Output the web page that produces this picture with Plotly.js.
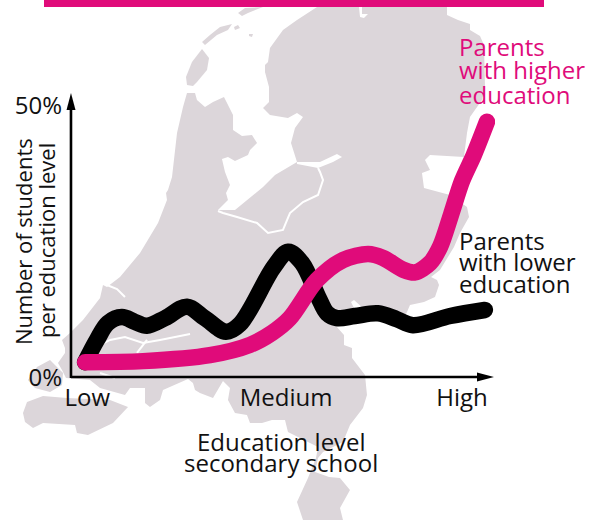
<!DOCTYPE html>
<html>
<head>
<meta charset="utf-8">
<script src="https://cdn.plot.ly/plotly-3.0.1.min.js"></script>
<style>
html,body{margin:0;padding:0;background:#fff;}
#chart{width:594px;height:520px;}
.js-line{stroke-linecap:round !important;}
</style>
</head>
<body>
<div id="chart"></div>
<script>
// Chart data: x = education level (0-100 scale), y = share of students in %
const lowerX  = [3.1,5.9,8.5,11.8,14.9,17.7,22.0,27.2,31.4,36.4,39.7,47.7,51.1,54.4,58.2,60.3,62.6,66.9,72.3,76.8,80.6,89.4,97.6];
const lowerY  = [2.9,7.0,10.1,11.2,10.3,9.6,11.0,13.1,11.0,8.5,9.9,20.4,23.2,21.1,14.9,11.9,11.0,11.4,11.9,10.8,9.7,11.4,12.5];
const higherX = [3.1,16.8,32.6,42.1,47.3,51.5,57.9,64.1,70.0,73.5,78.3,81.1,84.6,87.0,89.6,92.2,95.0,98.1];
const higherY = [2.9,3.1,4.2,6.1,8.3,11.0,18.0,21.7,22.8,22.1,19.9,19.4,21.1,24.1,30.0,36.2,41.0,47.1];
const xTickVals = [3.6,50.6,92.2];
const xTickText = ['Low','Medium','High'];
const yTickVals = [0,50];
const yTickText = ['0%','50%'];

const PINK = '#E00B7A', GREY = '#DCD6DA', INK = '#111111', FONT = '"Open Sans", sans-serif';

// Decorative background map outline (page pixels)
const mainland = [[317,7],[447,7],[447,15],[458,20],[470,24],[470,30],[480,36],[484,45],[485,87],[482,100],[470,117],[467,133],[464,157],[430,155],[425,160],[430,170],[422,173],[424,188],[450,195],[467,207],[469,217],[460,233],[454,247],[440,270],[431,277],[437,280],[439,285],[435,297],[424,302],[410,305],[407,312],[404,318],[366,320],[365,310],[354,300],[351,302],[356,312],[352,320],[336,326],[344,335],[344,345],[352,348],[352,358],[365,375],[367,395],[363,408],[350,425],[343,442],[323,452],[318,458],[315,472],[329,477],[340,478],[350,490],[340,508],[343,520],[303,520],[297,502],[308,478],[316,458],[318,447],[288,432],[285,420],[272,420],[262,423],[250,423],[247,415],[235,413],[228,400],[230,388],[223,381],[213,398],[200,393],[195,390],[193,383],[188,379],[163,390],[160,400],[150,407],[145,403],[145,388],[130,388],[125,395],[100,388],[90,380],[66,378],[62,370],[58,363],[65,353],[65,348],[62,340],[70,333],[83,320],[100,298],[103,285],[107,287],[120,277],[140,253],[158,223],[167,200],[166,193],[168,190],[172,177],[177,133],[183,107],[187,93],[195,93],[197,100],[205,107],[213,102],[224,97],[233,115],[233,130],[242,136],[252,135],[257,143],[250,150],[248,155],[235,161],[228,157],[222,159],[225,172],[230,185],[226,193],[228,200],[218,210],[235,210],[263,187],[275,175],[297,162],[291,143],[295,128],[303,117],[297,113],[288,118],[270,115],[263,108],[269,102],[269,87],[265,72],[265,65],[268,62],[270,48],[283,30],[297,20]];
const walcheren = [[37,367],[50,360],[58,368],[63,373],[62,385],[50,392],[35,388],[28,380]];
const flanders = [[23,413],[27,402],[43,396],[67,398],[110,400],[128,407],[113,423],[88,435],[77,433],[75,425],[43,423],[33,428],[25,422]];
const texel = [[202,49],[209,58],[207,70],[197,82],[193,86],[187,85],[186,77],[192,62]];
const vlieland = [[202,42],[210,35],[220,27],[232,24],[228,30],[217,35],[205,45]];
const griend = [[234,27],[238,25],[240,28],[235,30]];
const richel = [[249,34],[253,34],[252,37],[249,36]];
const terschelling = [[238,13],[245,8],[263,7],[248,13],[242,16]];
const greyShapes = [mainland, walcheren, flanders, texel, vlieland, griend, richel, terschelling];

const ketelmeer = [[297,162],[320,162],[337,154],[342,157],[333,162],[318,168],[297,164]];
const lauwers = [[359,7],[362,7],[362,14],[368,14],[364,18],[360,17]];
const whiteFills = [ketelmeer, lauwers];
const flevoEdge = [[218,211],[223,213],[237,217],[257,223],[268,233],[283,230],[287,220],[290,213],[303,202],[318,195],[323,180],[320,172],[318,168]];
const riverA = [[100,345],[110,340],[125,337],[143,343],[160,340],[190,334]];
const riverB = [[147,340],[137,353]];
const waterway = [[107,285],[117,289],[125,297]];
const riverC = [[100,373],[115,378]];
const whiteLines = [flevoEdge, riverA, riverB, waterway, riverC];

// Axis lines and their arrow heads (page pixels)
const xAxisLine = [[71,377],[480,377]];
const yAxisLine = [[71,378],[71,106]];
const xArrowHead = [[494,377],[477,372.5],[477,381.5]];
const yArrowHead = [[71,93],[66.5,110],[75.5,110]];

const px = p => p[0]/594, py = p => 1 - p[1]/520;
const toPath = (pts, close) => pts.map((p,i)=>(i?'L':'M')+px(p).toFixed(4)+' '+py(p).toFixed(4)).join(' ') + (close?' Z':'');
const shapes = [];
greyShapes.forEach(s=>shapes.push({type:'path',xref:'paper',yref:'paper',layer:'below',path:toPath(s,true),fillcolor:GREY,line:{width:0}}));
whiteFills.forEach(s=>shapes.push({type:'path',xref:'paper',yref:'paper',layer:'below',path:toPath(s,true),fillcolor:'#fff',line:{width:0}}));
whiteLines.forEach(s=>shapes.push({type:'path',xref:'paper',yref:'paper',layer:'below',path:toPath(s,false),fillcolor:'rgba(0,0,0,0)',line:{color:'#fff',width:2}}));
[xAxisLine,yAxisLine].forEach(s=>shapes.push({type:'path',xref:'paper',yref:'paper',layer:'below',path:toPath(s,false),fillcolor:'rgba(0,0,0,0)',line:{color:'#000',width:2.6}}));
[xArrowHead,yArrowHead].forEach(s=>shapes.push({type:'path',xref:'paper',yref:'paper',layer:'below',path:toPath(s,true),fillcolor:'#000',line:{width:0}}));
shapes.push({type:'rect',xref:'paper',yref:'paper',layer:'above',x0:44/594,x1:544/594,y0:1-7/520,y1:1,fillcolor:PINK,line:{width:0}});

const label = (text,x,y,opts={}) => Object.assign({text,x:x/594,y:1-y/520,xref:'paper',yref:'paper',showarrow:false,xanchor:'left',yanchor:'middle',font:{family:FONT,size:24,color:INK}},opts);
const pinkFont = {family:FONT,size:24,color:PINK};
const annotations = [
  label('Parents',456.5,46,{font:pinkFont}),
  label('with higher',456.5,70,{font:pinkFont}),
  label('education',456.5,94,{font:pinkFont}),
  label('Parents',456.5,240),
  label('with lower',456.5,261),
  label('education',456.5,283),
  label('Education level',281,441,{xanchor:'center'}),
  label('secondary school',281,462,{xanchor:'center'}),
  label('Number of students',23,242,{xanchor:'center',textangle:-90,font:{family:FONT,size:22,color:INK}}),
  label('per education level',46,241,{xanchor:'center',textangle:-90,font:{family:FONT,size:22,color:INK}})
];

const traces = [
  {name:'Parents with lower education',x:lowerX,y:lowerY,type:'scatter',mode:'lines',line:{color:'#000',width:16.5,shape:'spline',smoothing:1},hoverinfo:'skip',cliponaxis:false},
  {name:'Parents with higher education',x:higherX,y:higherY,type:'scatter',mode:'lines',line:{color:PINK,width:16.5,shape:'spline',smoothing:0.85},hoverinfo:'skip',cliponaxis:false}
];

const layout = {
  width:594,height:520,margin:{l:0,r:0,t:0,b:0,pad:0},
  paper_bgcolor:'rgba(0,0,0,0)',plot_bgcolor:'rgba(0,0,0,0)',showlegend:false,
  xaxis:{domain:[72/594,495/594],range:[0,100],showgrid:false,zeroline:false,showline:false,ticks:'',tickmode:'array',tickvals:xTickVals,ticktext:xTickText,tickfont:{family:FONT,size:24,color:INK},ticklabelstandoff:3},
  yaxis:{domain:[142/520,426/520],range:[0,52.2],showgrid:false,zeroline:false,showline:false,ticks:'',tickmode:'array',tickvals:yTickVals,ticktext:yTickText,tickfont:{family:FONT,size:24,color:INK},ticklabelstandoff:9},
  shapes,annotations
};
Plotly.newPlot('chart',traces,layout,{displayModeBar:false,staticPlot:true});
</script>
</body>
</html>
